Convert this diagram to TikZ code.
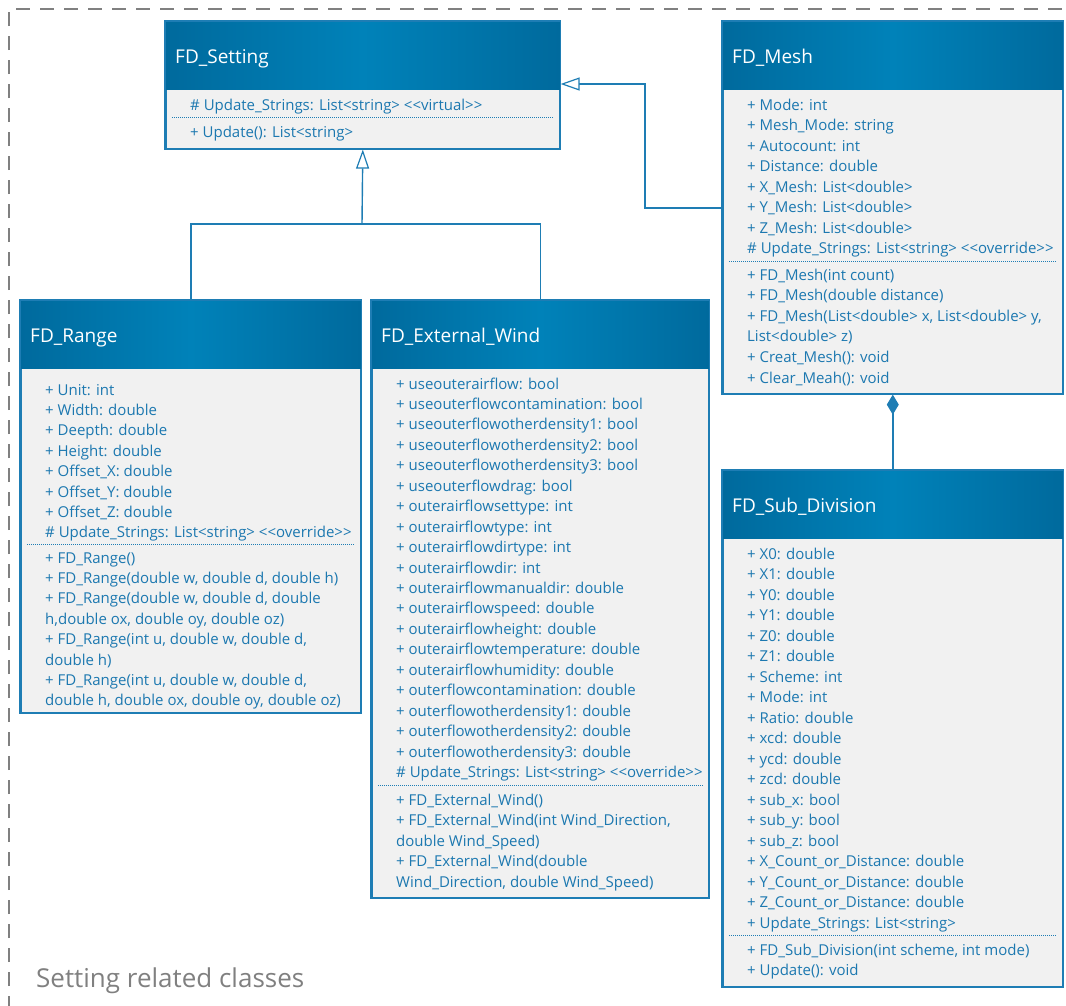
\documentclass[tikz,border=0pt]{standalone}
\usepackage{fontspec}
\setmainfont{Open Sans}
\usetikzlibrary{arrows.meta}

\definecolor{umlborder}{RGB}{30,125,180}
\definecolor{umlink}{RGB}{28,120,176}
\definecolor{umlbody}{RGB}{241,241,241}
\definecolor{headdark}{RGB}{0,106,157}
\definecolor{headlight}{RGB}{0,130,185}
\definecolor{framegray}{RGB}{128,128,128}

\tikzset{
  classbox/.style={draw=umlborder, line width=1.6pt, fill=umlbody, inner sep=0pt, anchor=north west},
  umltext/.style={text=umlink, font=\fontsize{15}{18}\selectfont, inner sep=0pt, anchor=base west},
  umltitle/.style={text=white, font=\fontsize{19}{22}\selectfont, inner sep=0pt, anchor=base west},
  headshade/.style={left color=headdark, right color=headdark, middle color=headlight},
  sepline/.style={draw=umlborder, line width=0.9pt, dash pattern=on 1pt off 1pt},
  conn/.style={draw=umlborder, line width=1.4pt},
  inherit/.style={conn, -{Triangle[length=19pt, width=13pt, fill=white, line width=1.2pt]}},
  compose/.style={conn, -{Diamond[length=20pt, width=12pt, fill=umlborder]}},
  framestyle/.style={draw=framegray, line width=1.6pt, dash pattern=on 14pt off 10pt}
}

% stereotype brackets, kept apart so the font does not turn them into guillemets
\newcommand\lsq{<{}<}
\newcommand\rsq{>{}>}

% #1 id, #2 x, #3 y, #4 width, #5 height, #6 title, #7 title baseline offset
\newcommand\umlclass[7]{%
  \node[classbox, minimum width=#4pt, minimum height=#5pt] (#1) at (#2,#3) {};
  \shade[headshade] ([xshift=.8pt,yshift=-.8pt]#1.north west) rectangle ([xshift=-.8pt,yshift=-68pt]#1.north east);
  \draw[umlborder, line width=1.6pt] (#1.north west) rectangle (#1.south east);
  \node[umltitle] (#1-title) at (#2+10, #3+#7) {#6};
}

% #1 prefix, #2 x, #3 first baseline, #4 line step, #5 lines
\newcommand\umllines[5]{%
  \foreach \t [count=\i from 0] in {#5} {
    \node[umltext] (#1-\i) at (#2, #3+#4*\i) {\t};
  }
}

% #1 id, #2 y
\newcommand\umlsep[2]{%
  \draw[sepline] ([xshift=7pt]#1.west |- 0,#2) -- ([xshift=-7pt]#1.east |- 0,#2);
}

\begin{document}
\begin{tikzpicture}[x=1pt, y=-1pt]
\useasboundingbox (0,0) rectangle (1066,1005);

% package frame
\draw[framestyle] (9,1010) -- (9,9) -- (1070,9);
\node[text=framegray, font=\fontsize{26}{30}\selectfont, inner sep=0pt, anchor=base west] (caption) at (36,987) {Setting related classes};

% FD_Setting
\umlclass{setting}{165}{21}{394}{127}{FD\_Setting}{42}
\umllines{setA}{190}{110}{20.5}{\# Update\_Strings: List<string> \lsq virtual\rsq}
\umlsep{setting}{117.5}
\umllines{setO}{190}{137}{20.5}{+ Update(): List<string>}

% FD_Mesh
\umlclass{mesh}{722}{21}{340}{372}{FD\_Mesh}{42}
\umllines{meshA}{747}{110}{20.5}{+ Mode: int, + Mesh\_Mode: string, + Autocount: int, + Distance: double,
  + X\_Mesh: List<double>, + Y\_Mesh: List<double>, + Z\_Mesh: List<double>,
  \# Update\_Strings: List<string> \lsq override\rsq}
\umlsep{mesh}{261}
\umllines{meshO}{747}{280}{20.6}{+ FD\_Mesh(int count), + FD\_Mesh(double distance),
  {+ FD\_Mesh(List<double> x, List<double> y,}, List<double> z),
  + Creat\_Mesh(): void, + Clear\_Meah(): void}

% FD_Range
\umlclass{range}{20}{300}{340}{412}{FD\_Range}{42}
\umllines{rangeA}{45}{395}{20.4}{+ Unit: int, + Width: double, + Deepth: double, + Height: double,
  + Offset\_X: double, + Offset\_Y: double, + Offset\_Z: double,
  \# Update\_Strings: List<string> \lsq override\rsq}
\umlsep{range}{544}
\umllines{rangeO}{45}{563}{20.4}{+ FD\_Range(), {+ FD\_Range(double w, double d, double h)},
  {+ FD\_Range(double w, double d, double}, {h,double ox, double oy, double oz)},
  {+ FD\_Range(int u, double w, double d,}, double h),
  {+ FD\_Range(int u, double w, double d,}, {double h, double ox, double oy, double oz)}}

% FD_External_Wind
\umlclass{wind}{371}{300}{337}{597}{FD\_External\_Wind}{42}
\umllines{windA}{396}{389}{20.45}{+ useouterairflow: bool, + useouterflowcontamination: bool,
  + useouterflowotherdensity1: bool, + useouterflowotherdensity2: bool,
  + useouterflowotherdensity3: bool, + useouterflowdrag: bool,
  + outerairflowsettype: int, + outerairflowtype: int, + outerairflowdirtype: int,
  + outerairflowdir: int, + outerairflowmanualdir: double, + outerairflowspeed: double,
  + outerairflowheight: double, + outerairflowtemperature: double,
  + outerairflowhumidity: double, + outerflowcontamination: double,
  + outerflowotherdensity1: double, + outerflowotherdensity2: double,
  + outerflowotherdensity3: double, \# Update\_Strings: List<string> \lsq override\rsq}
\umlsep{wind}{785}
\umllines{windO}{396}{805}{20.5}{+ FD\_External\_Wind(), {+ FD\_External\_Wind(int Wind\_Direction,},
  double Wind\_Speed), + FD\_External\_Wind(double, {Wind\_Direction, double Wind\_Speed)}}

% FD_Sub_Division
\umlclass{sub}{722}{470}{340}{516}{FD\_Sub\_Division}{42}
\umllines{subA}{747}{559}{20.5}{+ X0: double, + X1: double, + Y0: double, + Y1: double,
  + Z0: double, + Z1: double, + Scheme: int, + Mode: int, + Ratio: double,
  + xcd: double, + ycd: double, + zcd: double, + sub\_x: bool, + sub\_y: bool,
  + sub\_z: bool, + X\_Count\_or\_Distance: double, + Y\_Count\_or\_Distance: double,
  + Z\_Count\_or\_Distance: double, + Update\_Strings: List<string>}
\umlsep{sub}{935}
\umllines{subO}{747}{955}{20.5}{{+ FD\_Sub\_Division(int scheme, int mode)}, + Update(): void}

% relations
\coordinate (bus) at (362,224);
\coordinate (mbend) at (645,84);
\draw[conn] (range.north) |- (bus) -| (wind.north);
\draw[inherit] (bus) -- (setting.south);
\draw[inherit] (mesh.west) -| (mbend) -- (mbend -| setting.east);
\draw[compose] (sub.north) -- (mesh.south);
\end{tikzpicture}
\end{document}
